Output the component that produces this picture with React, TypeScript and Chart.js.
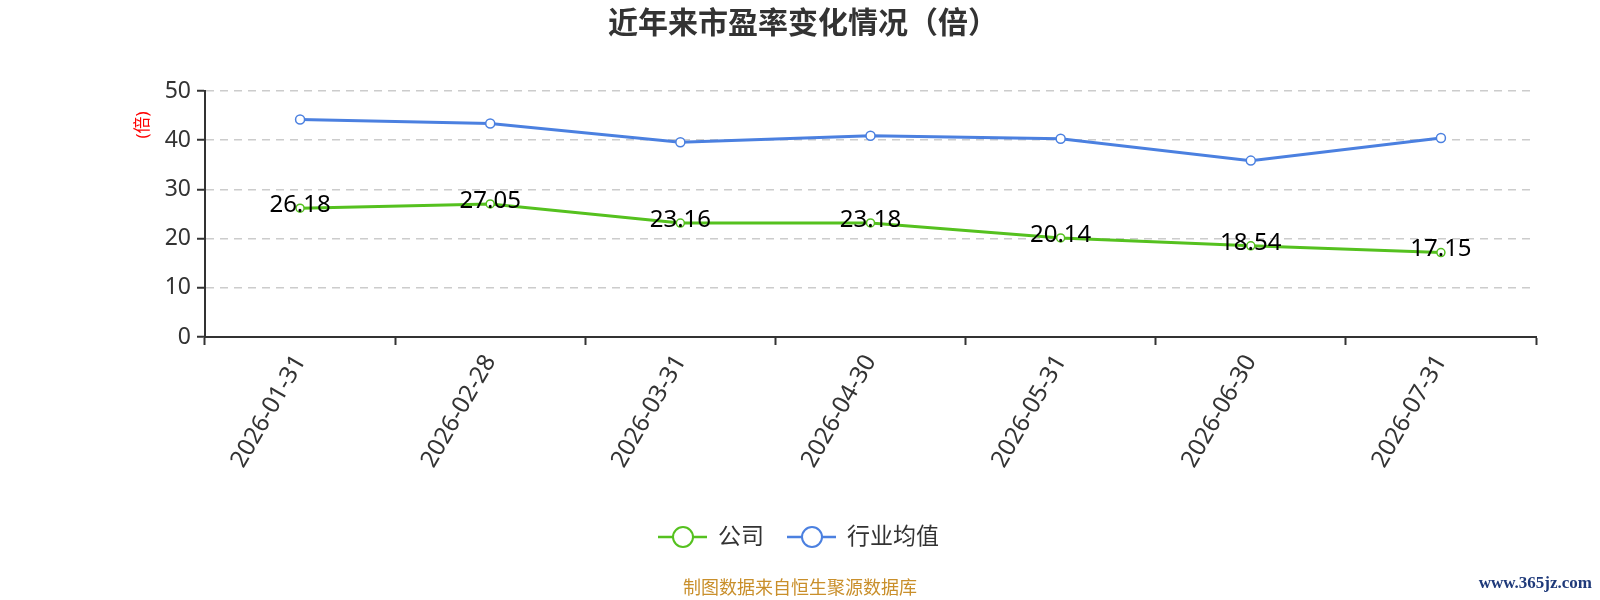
import { useEffect, useRef } from 'react';
import Chart from 'chart.js/auto';

const dates = ['2026-01-31', '2026-02-28', '2026-03-31', '2026-04-30', '2026-05-31', '2026-06-30', '2026-07-31'];
const companyPE = [26.18, 27.05, 23.16, 23.18, 20.14, 18.54, 17.15];
const industryPE = [44.2, 43.4, 39.6, 40.9, 40.3, 35.85, 40.45];
const seriesNames = ['公司', '行业均值'];
const yTicks = { min: 0, max: 50, step: 10 };

const GREEN = '#55c11f';
const BLUE = '#4b80e0';
const FONT = "'Noto Sans', 'Noto Sans CJK SC', sans-serif";

// title, legend, footer and the red axis unit, all drawn on the canvas
const decorations = {
  id: 'decorations',
  afterDraw(chart) {
    const ctx = chart.ctx;
    ctx.save();

    ctx.fillStyle = '#333';
    ctx.font = `bold 30px ${FONT}`;
    ctx.textAlign = 'center';
    ctx.textBaseline = 'middle';
    ctx.fillText('近年来市盈率变化情况（倍）', 803, 24);

    // axis unit
    ctx.save();
    ctx.translate(143, 125);
    ctx.rotate(-Math.PI / 2);
    ctx.fillStyle = '#ff0000';
    ctx.font = `17px ${FONT}`;
    ctx.fillText('(倍)', 0, 0);
    ctx.restore();

    // legend
    const items = [
      { name: seriesNames[0], color: GREEN, x: 658 },
      { name: seriesNames[1], color: BLUE, x: 787 },
    ];
    items.forEach(it => {
      const y = 537;
      ctx.strokeStyle = it.color;
      ctx.lineWidth = 2.5;
      ctx.beginPath();
      ctx.moveTo(it.x, y);
      ctx.lineTo(it.x + 49, y);
      ctx.stroke();
      ctx.beginPath();
      ctx.arc(it.x + 25, y, 10, 0, Math.PI * 2);
      ctx.fillStyle = '#fff';
      ctx.fill();
      ctx.lineWidth = 2;
      ctx.stroke();
      ctx.fillStyle = '#333';
      ctx.font = `23px ${FONT}`;
      ctx.textAlign = 'left';
      ctx.fillText(it.name, it.x + 60, y);
    });

    ctx.fillStyle = '#c98f2b';
    ctx.font = `18px ${FONT}`;
    ctx.textAlign = 'center';
    ctx.fillText('制图数据来自恒生聚源数据库', 800, 589);

    ctx.fillStyle = '#1f3a7a';
    ctx.font = "bold 17px 'Liberation Serif', serif";
    ctx.textAlign = 'right';
    ctx.fillText('www.365jz.com', 1592, 584);

    ctx.restore();
  },
};

// value labels on the company line
const valueLabels = {
  id: 'valueLabels',
  afterDatasetsDraw(chart) {
    const ctx = chart.ctx;
    const meta = chart.getDatasetMeta(0);
    ctx.save();
    ctx.fillStyle = '#000';
    ctx.font = `24px ${FONT}`;
    ctx.textAlign = 'center';
    ctx.textBaseline = 'middle';
    meta.data.forEach((pt, i) => {
      ctx.fillText(companyPE[i].toFixed(2), pt.x, pt.y - 3);
    });
    ctx.restore();
  },
};

export default function App() {
  const chartRef = useRef(null);
  const chartInstance = useRef(null);

  useEffect(() => {
    document.body.style.margin = '0';
    if (chartInstance.current) {
      chartInstance.current.destroy();
    }
    const ctx = chartRef.current.getContext('2d');

    chartInstance.current = new Chart(ctx, {
      type: 'line',
      data: {
        labels: dates,
        datasets: [
          {
            label: seriesNames[0],
            data: companyPE,
            borderColor: GREEN,
            borderWidth: 3,
            pointRadius: 4,
            pointBorderWidth: 1.5,
            pointBackgroundColor: '#fff',
            pointBorderColor: GREEN,
            tension: 0,
          },
          {
            label: seriesNames[1],
            data: industryPE,
            borderColor: BLUE,
            borderWidth: 3,
            pointRadius: 4.5,
            pointBorderWidth: 1.5,
            pointBackgroundColor: '#fff',
            pointBorderColor: BLUE,
            tension: 0,
          },
        ],
      },
      options: {
        animation: false,
        responsive: true,
        maintainAspectRatio: false,
        layout: { padding: { top: 91, right: 64, left: 0, bottom: 0 } },
        plugins: {
          legend: { display: false },
          title: { display: false },
          tooltip: { enabled: false },
        },
        scales: {
          x: {
            type: 'category',
            offset: true,
            grid: {
              offset: true,
              drawOnChartArea: false,
              drawTicks: true,
              tickLength: 8,
              tickColor: '#333',
              tickWidth: 2,
            },
            border: { color: '#333', width: 2 },
            ticks: {
              color: '#333',
              font: { size: 24, family: FONT },
              minRotation: 60,
              maxRotation: 60,
              padding: 5,
            },
            afterFit(scale) {
              scale.height = 263;
            },
          },
          y: {
            min: yTicks.min,
            max: yTicks.max,
            ticks: {
              stepSize: yTicks.step,
              color: '#333',
              font: { size: 23, family: FONT },
              padding: 6,
            },
            grid: {
              color: '#cccccc',
              lineWidth: 1.5,
              tickColor: '#333',
              tickLength: 8,
              tickWidth: 2,
            },
            border: { color: '#333', width: 2, dash: [8, 6] },
            afterFit(scale) {
              scale.width = 205;
            },
          },
        },
      },
      plugins: [valueLabels, decorations],
    });

    return () => {
      if (chartInstance.current) {
        chartInstance.current.destroy();
        chartInstance.current = null;
      }
    };
  }, []);

  return (
    <div style={{ width: 1600, height: 600, position: 'relative' }}>
      <canvas ref={chartRef}></canvas>
    </div>
  );
}
